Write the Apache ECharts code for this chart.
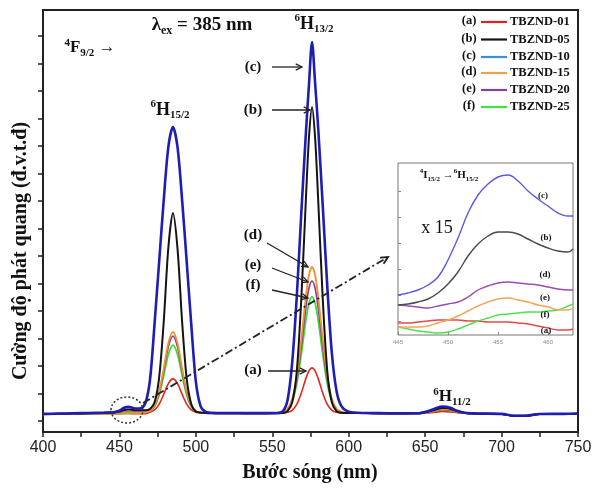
<!DOCTYPE html>
<html><head><meta charset="utf-8">
<script src="https://cdn.jsdelivr.net/npm/echarts@6/dist/echarts.min.js"></script>
<style>html,body{margin:0;padding:0;background:#fff}#c{width:605px;height:488px}</style>
</head><body><div id="c"></div>
<script>
// ---------- data ----------
const wavelengths = [400,410,420,430,440,446,450,453,456,459,461,
  464,467,470,473,476,479,482,485,488,491,494,497,500,503,506,510,
  518,528,538,546,
  553,557,560,563,566,569,572,574,576,578,580,583,586,589,592,595,599,
  606,616,630,
  645,652,657,661,664,667,671,676,
  685,700,708,715,725,740,750];

const tbznd01 = [645,655,660,665,668,672,675,674,672,665,661,
  662,668,720,805,1015,1375,1760,1930,1760,1375,1015,805,720,695,685,680,
  675,675,672,675,
  685,693,715,790,1005,1420,1950,2225,2330,2225,1950,1420,1005,790,715,695,688,
  686,678,670,
  672,695,720,745,742,730,705,683,
  665,652,585,585,648,652,660];
const tbznd05 = [650,660,670,680,695,700,740,800,820,800,790,
  790,790,840,1080,1990,4020,6700,7960,6670,4020,1940,1010,745,705,695,690,
  680,680,678,680,
  685,690,760,1070,2190,4860,8480,10710,11820,10710,8480,4860,2190,1070,760,700,690,
  695,685,675,
  678,740,820,875,870,830,750,695,
  668,655,588,588,650,655,665];
const tbznd10 = [660,670,680,690,705,720,775,880,915,870,850,
  860,1050,1900,3950,6200,8440,10360,11090,10360,8440,6200,3910,1830,950,740,700,
  690,690,685,688,
  690,760,1160,2510,4910,7980,10880,12630,14180,12700,11080,8240,5280,2850,1500,960,760,
  700,690,680,
  680,760,860,925,920,870,770,700,
  672,660,590,590,655,660,670];
const tbznd15 = [640,650,655,660,663,663,672,695,722,710,700,
  700,710,760,965,1460,2315,3230,3640,3230,2315,1460,965,760,705,690,680,
  675,675,672,675,
  690,730,845,1200,2010,3380,4940,5710,6000,5710,4940,3380,2010,1200,845,730,695,
  690,680,670,
  675,725,790,835,830,800,735,690,
  665,652,585,585,648,652,660];
const tbznd20 = [650,660,670,680,695,697,702,722,738,733,725,
  725,715,757,950,1420,2230,3100,3490,3100,2230,1420,950,757,700,690,680,
  675,675,672,675,
  688,724,830,1150,1885,3120,4530,5230,5490,5230,4530,3120,1885,1150,830,724,692,
  688,678,670,
  675,720,780,820,815,790,730,690,
  665,652,585,585,648,652,660];
const tbznd25 = [640,650,655,660,665,658,655,671,686,688,698,
  705,715,750,920,1340,2050,2820,3160,2820,2050,1340,920,750,700,688,680,
  675,675,672,675,
  686,720,812,1095,1741,2825,4066,4682,4910,4682,4066,2825,1741,1095,812,720,690,
  688,678,670,
  673,712,765,800,795,770,720,686,
  665,652,585,585,648,652,660];

// inset (x15) 445-462.5 nm
const insetWavelengths = [445,446,447,448,449,450,451,452,453,454,455,456,457,458,459,460,461,462,462.5];
const inset01 = [12,12,13,14,15,15,15,14,14,13,13,13,12,11,9,7,5,5,6];
const inset05 = [30,31,33,36,42,51,63,79,91,99,103,103,101,96,91,87,84,83,86];
const inset10 = [40,42,45,50,58,75,97,122,140,151,158,160,154,144,136,129,122,119,119];
const inset15 = [8,8,8,9,12,15,19,24,29,33,36,37,35,33,30,28,25,25,27];
const inset20 = [30,29,28,27,29,31,33,38,45,49,52,53,52,51,50,48,46,45,45];
const inset25 = [8,6,4,3,2,3,6,10,14,17,20,21,22,23,23,24,25,29,31];

const sampleNames = ['TBZND-01','TBZND-05','TBZND-10','TBZND-15','TBZND-20','TBZND-25'];
const sampleLetters = ['(a)','(b)','(c)','(d)','(e)','(f)'];
const xTicks = [400,450,500,550,600,650,700,750];
const insetXTicks = [445,450,455,460];
const yTickValues = [407,1407,2407,3407,4407,5407,6407,7407,8407,9407,10407,11407,12407,13407,14407];
const insetYTickValues = [13.7,39.7,65.7,91.7,117.7,143.7];

// ---------- styles ----------
const SERIF = '"Liberation Serif","Times New Roman",serif';
const SANS = '"Liberation Sans",Arial,sans-serif';
const mainValues = [tbznd01,tbznd05,tbznd10,tbznd15,tbznd20,tbznd25];
const insetValues = [inset01,inset05,inset10,inset15,inset20,inset25];
const curveColors = ['#e3261f','#141414','#1e1eb4','#ef922c','#8a3a9c','#34dd34'];
const curveWidths = [1.6,2,2.6,1.8,1.7,1.7];
const insetColors = ['#e84848','#4a4a4a','#5b5be2','#f3a457','#9a4cb2','#4ee04e'];
const legendColors = ['#e3241e','#151515','#3c8fd6','#f0a04a','#7d45a5','#3ee43e'];
const drawOrder = [0,5,4,3,1,2];

const chart = echarts.init(document.getElementById('c'));

const series = [];
drawOrder.forEach(i => {
  series.push({
    type:'line', name: sampleNames[i], xAxisIndex:0, yAxisIndex:0,
    data: wavelengths.map((w,k)=>[w, mainValues[i][k]]),
    showSymbol:false, smooth:0.3, animation:false,
    lineStyle:{color:curveColors[i], width:curveWidths[i]}
  });
});
drawOrder.forEach(i => {
  series.push({
    type:'line', name: sampleNames[i]+' x15', xAxisIndex:1, yAxisIndex:1,
    data: insetWavelengths.map((w,k)=>[w, insetValues[i][k]]),
    showSymbol:false, smooth:0.4, animation:false, z:10,
    lineStyle:{color:insetColors[i], width:1.4}
  });
});

function rt(x, y, parts, size, opts) {
  opts = opts || {};
  const s = Math.round(size*0.62);
  const w = opts.weight || 'bold';
  let text = '';
  parts.forEach(p => { text += '{' + p[0] + '|' + p[1] + '}'; });
  return {type:'text', x, y, z:60, rotation: opts.rotation || 0,
    style:{text, align: opts.align || 'center', verticalAlign:'middle',
      textAlign: opts.align || 'center', textVerticalAlign:'middle', fill:'#111',
      rich:{
        m:{fontFamily:SERIF, fontWeight:w, fontSize:size, lineHeight:size+4, fill:'#111'},
        sp:{fontFamily:SERIF, fontWeight:w, fontSize:s, lineHeight:s, verticalAlign:'top', fill:'#111'},
        sb:{fontFamily:SERIF, fontWeight:w, fontSize:s, lineHeight:s, verticalAlign:'bottom', fill:'#111'}
      }}};
}
function txt(x, y, text, size, opts) {
  opts = opts || {};
  return {type:'text', x, y, z:60, rotation: opts.rotation || 0,
    style:{text, font:(opts.weight||'bold') + ' ' + size + 'px ' + (opts.family||SERIF),
      fill: opts.color || '#111', align: opts.align || 'center', verticalAlign:'middle',
      textAlign: opts.align || 'center', textVerticalAlign:'middle'}};
}
function arrow(x1,y1,x2,y2,opts) {
  opts = opts || {};
  const col = opts.color || '#222', lw = opts.width || 1.3, h = opts.head || 7;
  const a = Math.atan2(y2-y1, x2-x1), sp = 0.45;
  const els = [{type:'polyline', z:55, shape:{points:[[x1,y1],[x2,y2]]},
    style:{stroke:col, lineWidth:lw, fill:null, lineDash: opts.dash || null}}];
  els.push({type:'polyline', z:55, shape:{points:[
    [x2 - h*Math.cos(a-sp), y2 - h*Math.sin(a-sp)], [x2,y2],
    [x2 - h*Math.cos(a+sp), y2 - h*Math.sin(a+sp)]]},
    style:{stroke:col, lineWidth:lw, fill:null}});
  return els;
}

const graphics = [];
// axis names
graphics.push(txt(310, 473, 'Bước sóng (nm)', 20));
graphics.push(txt(21, 251, 'Cường độ phát quang (đ.v.t.đ)', 20, {rotation: Math.PI/2}));
// annotations
graphics.push(rt(202, 25, [['m','λ'],['sb','ex'],['m',' = 385 nm']], 19));
graphics.push(rt(90, 48, [['sp','4'],['m','F'],['sb','9/2'],['m',' →']], 17));
graphics.push(rt(170, 110, [['sp','6'],['m','H'],['sb','15/2']], 18));
graphics.push(rt(314, 24, [['sp','6'],['m','H'],['sb','13/2']], 18));
graphics.push(rt(452, 397, [['sp','6'],['m','H'],['sb','11/2']], 17));
const callouts = [
  ['(c)',253,67, 272,67, 302,67],
  ['(b)',253,110, 272,110, 310,110],
  ['(d)',253,235, 267,243, 308,267],
  ['(e)',253,265, 272,268, 308,282],
  ['(f)',253,285, 272,290, 308,298],
  ['(a)',253,370, 268,371, 306,371]
];
callouts.forEach(c => {
  graphics.push(txt(c[1], c[2], c[0], 15));
  arrow(c[3],c[4],c[5],c[6]).forEach(e => graphics.push(e));
});
// dotted circle and dash-dot pointer
graphics.push({type:'ellipse', z:55, shape:{cx:127, cy:410, rx:16, ry:13},
  style:{stroke:'#333', lineWidth:1.5, lineDash:[2,2], fill:null}});
arrow(143,403,388,257,{dash:[8,3,2,3], width:1.8, head:8}).forEach(e => graphics.push(e));
// legend
const legendY = [21,38.5,56,72,89,106];
sampleNames.forEach((n,i) => {
  graphics.push(txt(469, legendY[i], sampleLetters[i], 12.5));
  graphics.push({type:'line', z:60, shape:{x1:481, y1:legendY[i]+1, x2:507, y2:legendY[i]+1},
    style:{stroke:legendColors[i], lineWidth:2.2}});
  graphics.push(txt(510, legendY[i]+1, n, 12.5, {align:'left'}));
});
// inset texts
graphics.push(rt(449, 175, [['sp','4'],['m','I'],['sb','15/2'],['m',' →'],['sp','6'],['m','H'],['sb','15/2']], 11));
graphics.push(txt(437, 228, 'x 15', 18, {weight:'normal'}));
const insetLabels = [['(c)',543,196],['(b)',546,238],['(d)',545,275],['(e)',545,298],['(f)',545,315],['(a)',546,331]];
insetLabels.forEach(l => graphics.push(txt(l[1], l[2], l[0], 9)));

chart.setOption({
  animation:false,
  backgroundColor:'#fff',
  grid:[
    {left:43, right:27, top:10, bottom:56, show:true, borderColor:'#222', borderWidth:2, backgroundColor:'transparent'},
    {left:398, top:163, width:175, height:172, show:true, borderColor:'#777', borderWidth:1, backgroundColor:'#fff'}
  ],
  xAxis:[
    {type:'value', gridIndex:0, min:400, max:750, interval:50,
      axisLine:{lineStyle:{color:'#222', width:2}},
      axisTick:{length:5, lineStyle:{color:'#222', width:1.5}},
      minorTick:{show:true, splitNumber:2, length:5, lineStyle:{color:'#222', width:1.5}},
      splitLine:{show:false},
      axisLabel:{fontSize:16, fontFamily:SANS, color:'#222', margin:8,
        customValues: xTicks}},
    {type:'value', gridIndex:1, min:445, max:462.5,
      axisLine:{show:false},
      axisTick:{inside:true, length:3, customValues: insetXTicks, lineStyle:{color:'#888'}},
      splitLine:{show:false},
      axisLabel:{fontSize:6, fontFamily:SANS, color:'#888', margin:4, customValues: insetXTicks}}
  ],
  yAxis:[
    {type:'value', gridIndex:0, min:0, max:15345,
      axisLine:{show:true, lineStyle:{color:'#222', width:2}},
      axisTick:{show:true, length:5, customValues: yTickValues, lineStyle:{color:'#222', width:1.5}},
      axisLabel:{show:false}, splitLine:{show:false}},
    {type:'value', gridIndex:1, min:0, max:172,
      axisLine:{show:false},
      axisTick:{show:true, inside:true, length:3, customValues: insetYTickValues, lineStyle:{color:'#888'}},
      axisLabel:{show:false}, splitLine:{show:false}}
  ],
  series: series,
  graphic: graphics
});
</script></body></html>
